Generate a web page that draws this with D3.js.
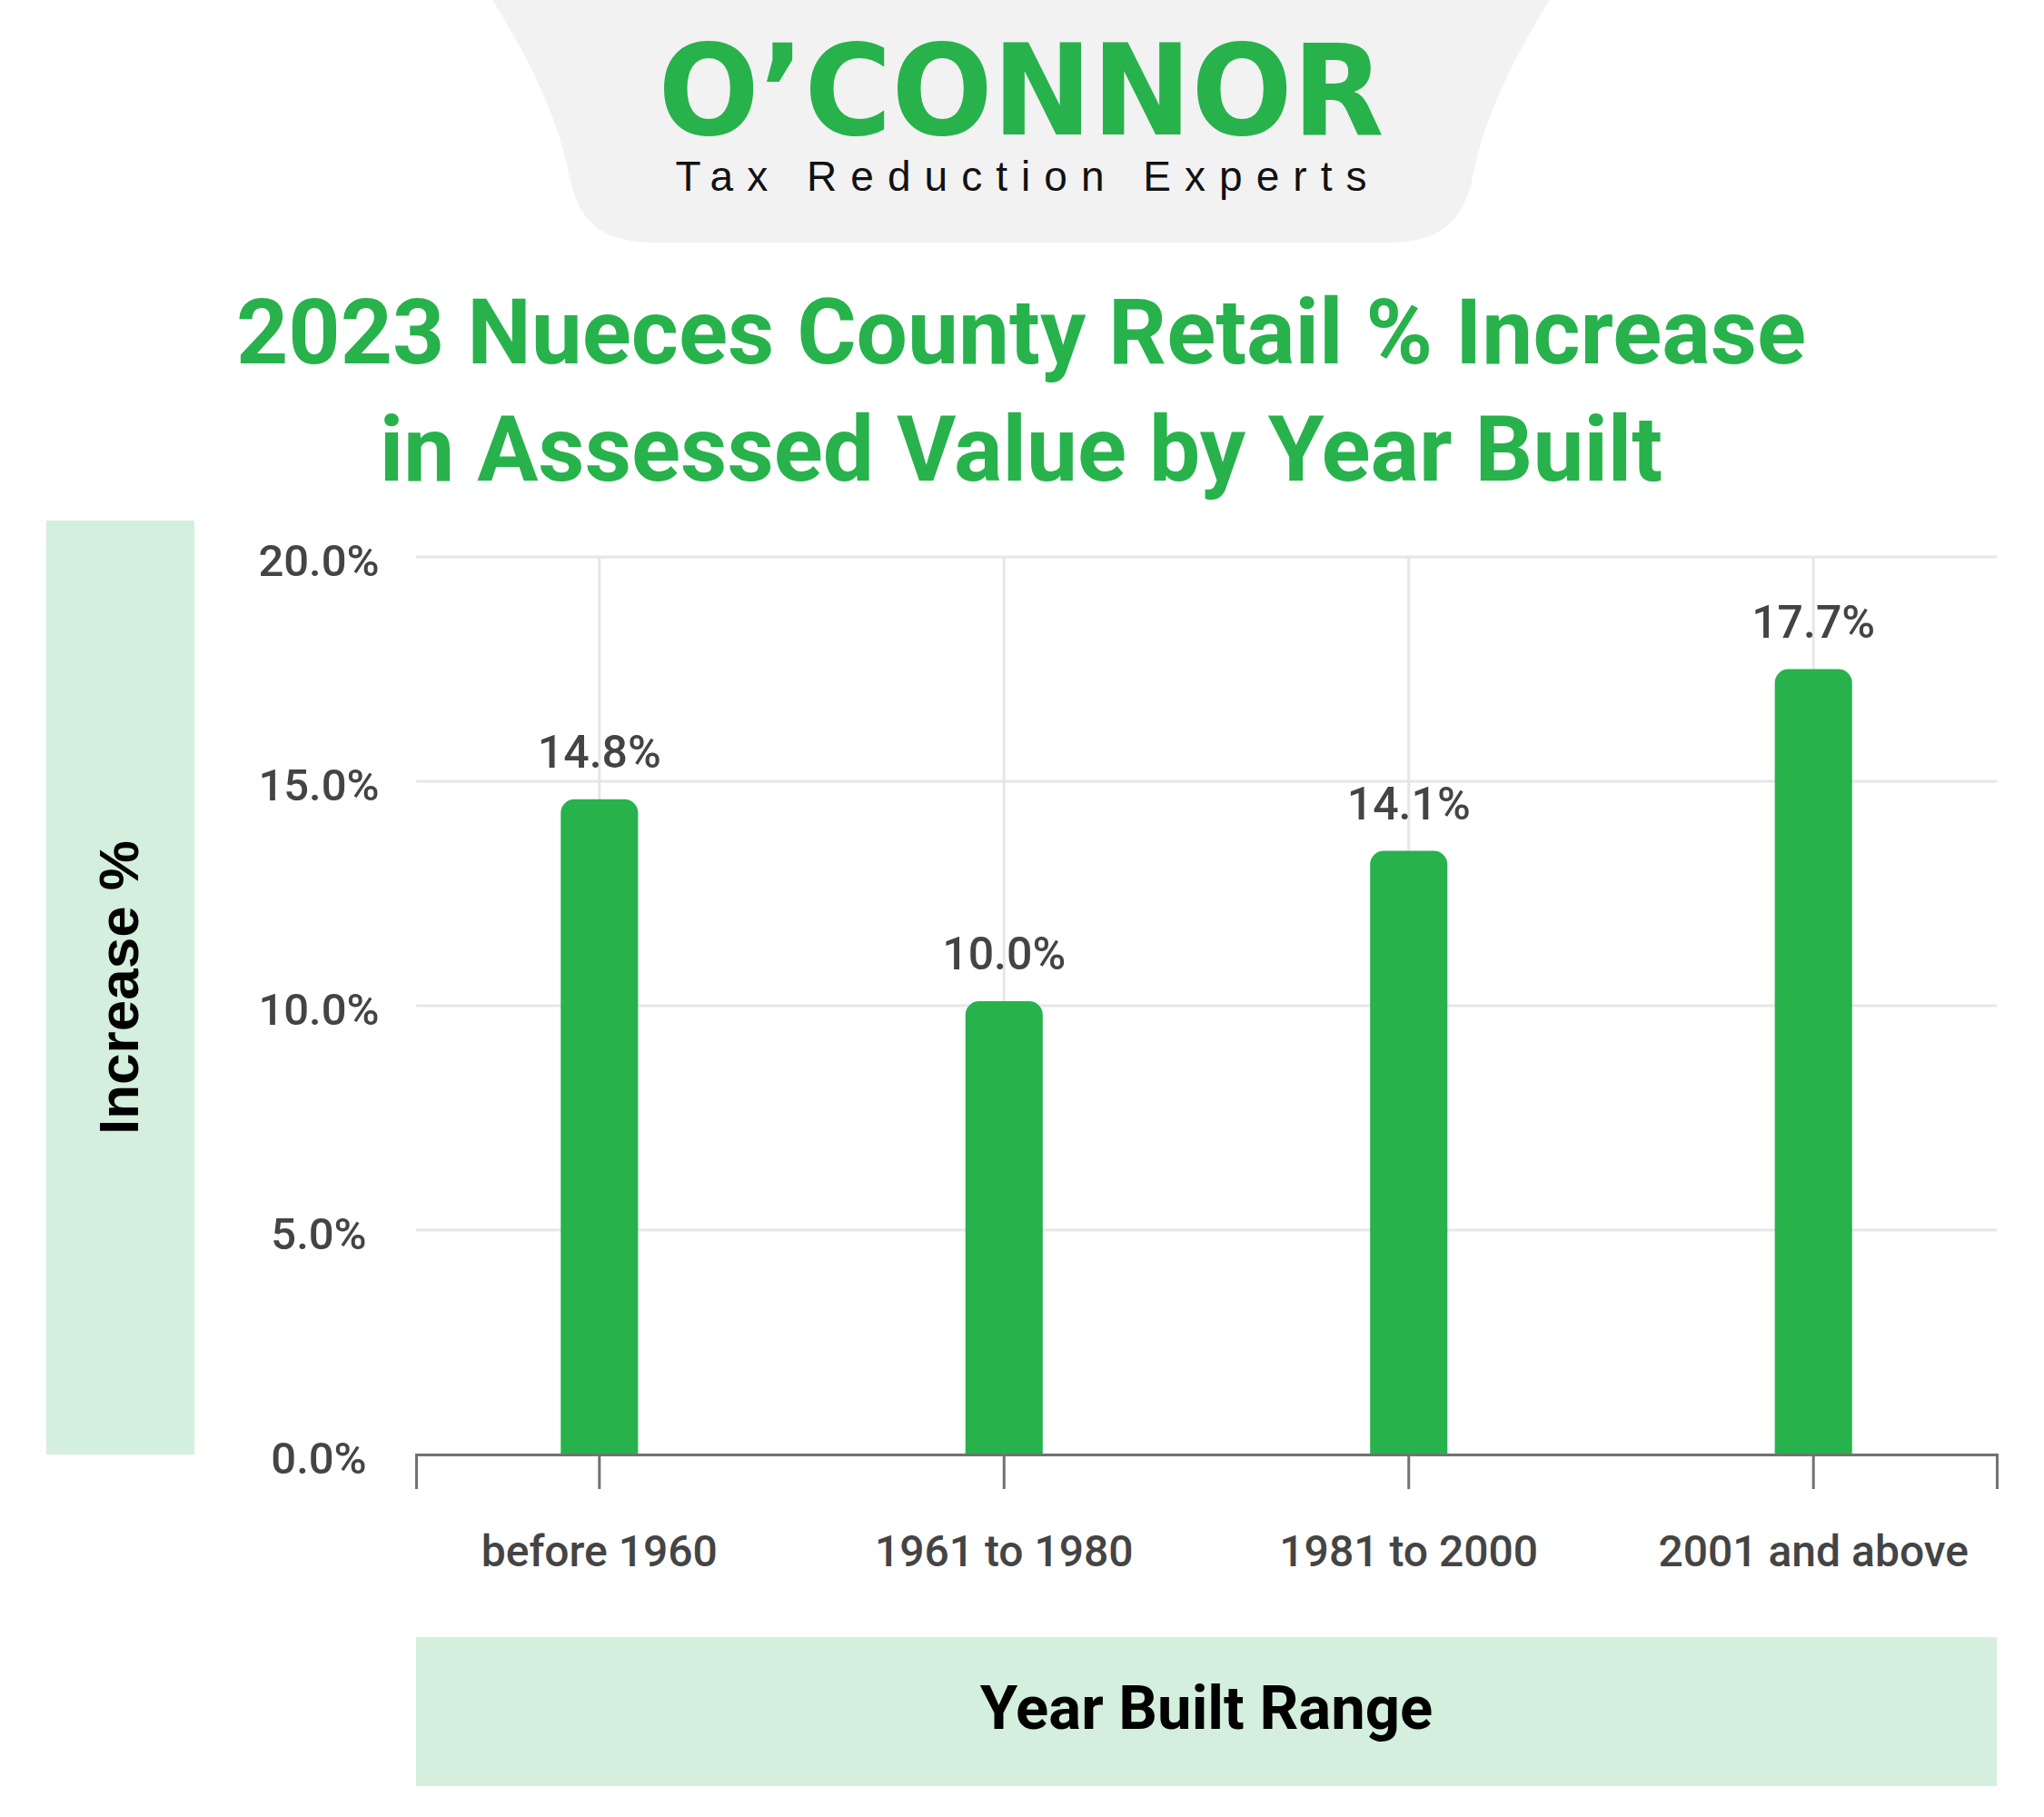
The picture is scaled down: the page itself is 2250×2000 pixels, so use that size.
<!DOCTYPE html>
<html><head><meta charset="utf-8">
<script src="https://cdn.jsdelivr.net/npm/d3@7"></script>
<style>body{margin:0;background:#fff}</style>
</head><body>
<svg id="chart" width="2250" height="2000"></svg>
<script>
// ---------- data ----------
const categories = ["before 1960", "1961 to 1980", "1981 to 2000", "2001 and above"];
const barValues = [14.6, 10.1, 13.45, 17.5];      // bar heights as drawn
const labelValues = [14.8, 10.0, 14.1, 17.7];     // printed value labels
const yTicks = [0, 5, 10, 15, 20];
const titleLines = ["2023 Nueces County Retail % Increase", "in Assessed Value by Year Built"];
const yAxisTitle = "Increase %";
const xAxisTitle = "Year Built Range";
const brandName = "O\u2019CONNOR";
const brandTag = "Tax Reduction Experts";

// ---------- styles ----------
const GREEN = "#27b24c", LIGHT = "#d4efdd", GRID = "#e6e6e8", TEXT = "#444444", AXIS = "#727272";
const svg = d3.select("#chart");
const W = 2250, H = 2000;
svg.append("rect").attr("width", W).attr("height", H).attr("fill", "#fff");
const cx = 1124;

// ---------- header / logo ----------
svg.append("path")
  .attr("d", "M542,0 C580,60 615,130 627,195 C638,250 670,267 720,267 L1528,267 C1578,267 1610,250 1621,195 C1633,130 1668,60 1706,0 Z")
  .attr("fill", "#f2f2f2");
svg.append("text").text(brandName)
  .attr("x", cx).attr("y", 148).attr("text-anchor", "middle")
  .attr("font-family", "'DejaVu Sans', sans-serif").attr("font-weight", 700)
  .attr("font-size", 139).attr("fill", GREEN)
  .attr("textLength", 799).attr("lengthAdjust", "spacingAndGlyphs");
svg.append("text").text(brandTag)
  .attr("x", cx).attr("y", 210).attr("text-anchor", "middle")
  .attr("font-family", "'Liberation Sans', Arial, sans-serif")
  .attr("font-size", 46).attr("fill", "#111")
  .attr("textLength", 761).attr("lengthAdjust", "spacing");

// ---------- title ----------
svg.append("g").selectAll("text").data(titleLines).join("text")
  .text(d => d)
  .attr("x", cx).attr("y", (d, i) => 400 + i * 129)
  .attr("text-anchor", "middle")
  .attr("font-family", "Roboto, sans-serif").attr("font-weight", 700)
  .attr("font-size", 100).attr("fill", GREEN);

// ---------- scales ----------
const x = d3.scaleBand().domain(categories).range([458, 2198])
  .paddingInner(0.809).paddingOuter(0.3575);
const y = d3.scaleLinear().domain([0, 20]).range([1601, 613]);

// ---------- axis title boxes ----------
svg.append("rect").attr("x", 51).attr("y", y(20) - 40).attr("width", 163)
  .attr("height", y(0) - y(20) + 40).attr("fill", LIGHT);
svg.append("text").text(yAxisTitle)
  .attr("transform", `translate(152,${(y(0) + y(20) - 40) / 2}) rotate(-90)`)
  .attr("text-anchor", "middle")
  .attr("font-family", "'Liberation Sans', Arial, sans-serif").attr("font-weight", 700)
  .attr("font-size", 62).attr("fill", "#000");

svg.append("rect").attr("x", 458).attr("y", 1802).attr("width", 1740)
  .attr("height", 164).attr("fill", LIGHT);
svg.append("text").text(xAxisTitle)
  .attr("x", (458 + 2198) / 2).attr("y", 1903).attr("text-anchor", "middle")
  .attr("font-family", "Roboto, sans-serif").attr("font-weight", 700)
  .attr("font-size", 67).attr("fill", "#000");

// ---------- grid ----------
const grid = svg.append("g");
grid.selectAll("line.h").data(yTicks).join("line").attr("class", "h")
  .attr("x1", 458).attr("x2", 2198)
  .attr("y1", d => y(d)).attr("y2", d => y(d))
  .attr("stroke", GRID).attr("stroke-width", 3);
grid.selectAll("line.v").data(categories).join("line").attr("class", "v")
  .attr("x1", d => x(d) + x.bandwidth() / 2).attr("x2", d => x(d) + x.bandwidth() / 2)
  .attr("y1", y(20)).attr("y2", y(0))
  .attr("stroke", GRID).attr("stroke-width", 3);

// ---------- y labels ----------
const pct = v => d3.format(".1f")(v) + "%";
const yAxis = svg.append("g").attr("transform", "translate(458,0)")
  .call(d3.axisLeft(y).tickValues(yTicks).tickSize(0).tickFormat(pct));
yAxis.select(".domain").remove();
yAxis.selectAll("text")
  .attr("x", -107).attr("dy", "0.42em").attr("text-anchor", "middle")
  .attr("font-family", "Roboto, sans-serif").attr("font-weight", 500)
  .attr("font-size", 49).attr("fill", TEXT);

// ---------- bars ----------
const r = 15;
function topRounded(x0, y0, w, h) {
  const rr = Math.min(r, h, w / 2);
  return `M${x0},${y0 + h}V${y0 + rr}A${rr},${rr} 0 0 1 ${x0 + rr},${y0}H${x0 + w - rr}A${rr},${rr} 0 0 1 ${x0 + w},${y0 + rr}V${y0 + h}Z`;
}
const rows = categories.map((c, i) => ({ c, v: barValues[i], label: labelValues[i] }));
svg.append("g").selectAll("path").data(rows).join("path")
  .attr("d", d => topRounded(x(d.c), y(d.v), x.bandwidth(), y(0) - y(d.v)))
  .attr("fill", GREEN);

svg.append("g").selectAll("text").data(rows).join("text")
  .text(d => pct(d.label))
  .attr("x", d => x(d.c) + x.bandwidth() / 2).attr("y", d => y(d.v) - 35)
  .attr("text-anchor", "middle")
  .attr("font-family", "Roboto, sans-serif").attr("font-weight", 500)
  .attr("font-size", 50).attr("fill", TEXT);

// ---------- x axis ----------
const xAxis = svg.append("g").attr("transform", `translate(0,${y(0)})`)
  .call(d3.axisBottom(x).tickSizeInner(38).tickSizeOuter(38).tickPadding(51));
xAxis.select(".domain").attr("stroke", AXIS).attr("stroke-width", 3);
xAxis.selectAll(".tick line").attr("stroke", AXIS).attr("stroke-width", 3);
xAxis.selectAll("text")
  .attr("font-family", "Roboto, sans-serif").attr("font-weight", 500)
  .attr("font-size", 48).attr("fill", TEXT);
</script>
</body></html>
